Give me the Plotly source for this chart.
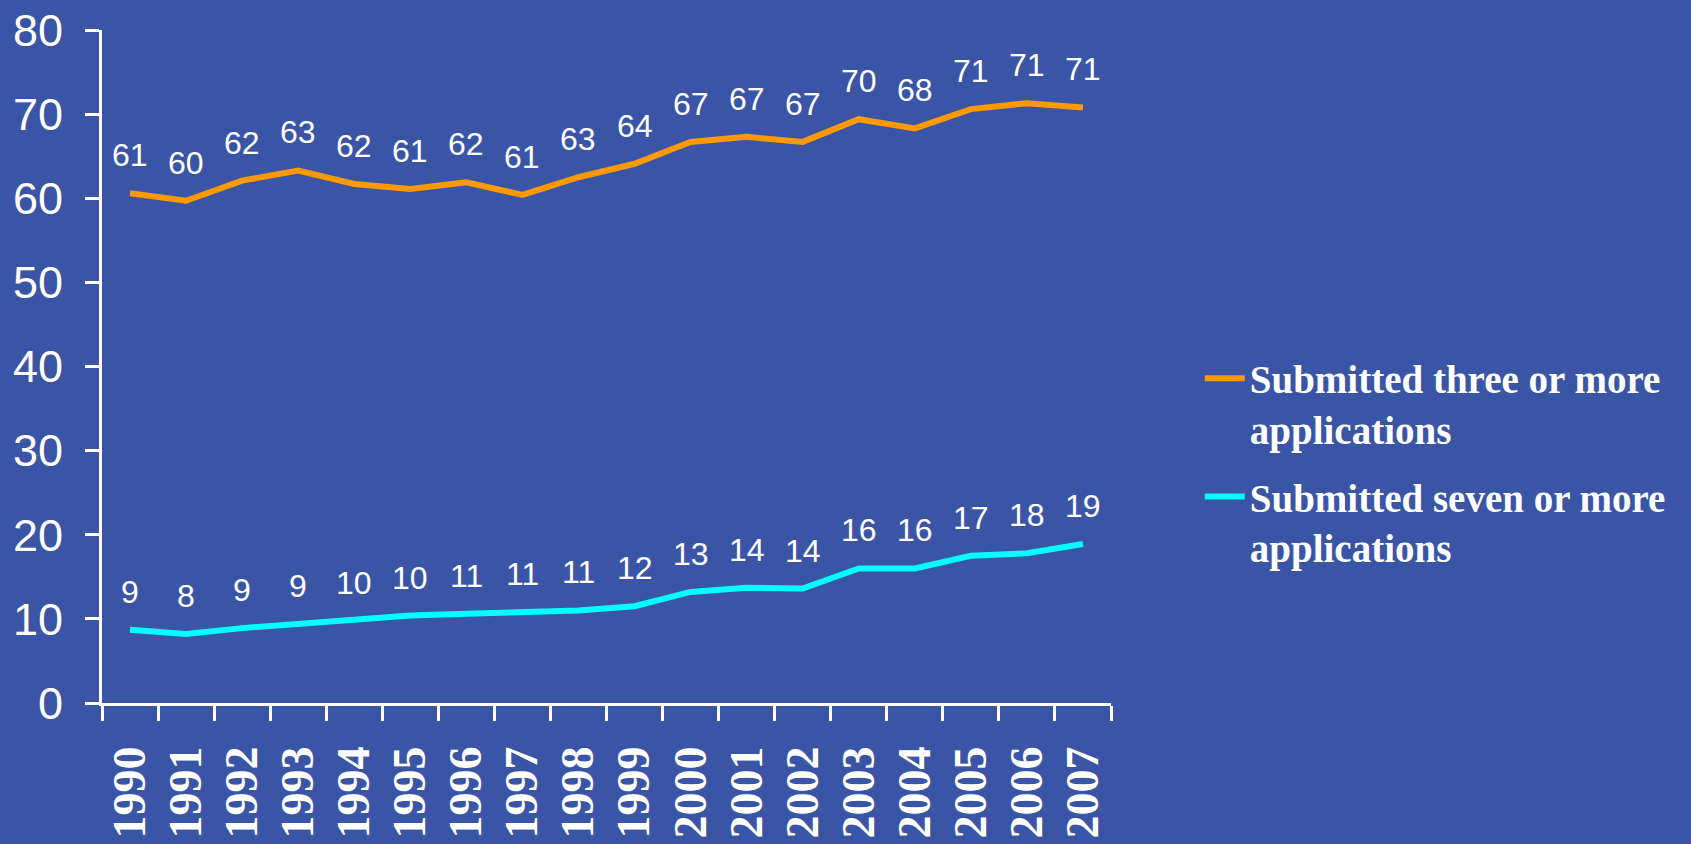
import plotly.graph_objects as go

years = [str(y) for y in range(1990, 2008)]
three_or_more = [60.6, 59.7, 62.1, 63.3, 61.7, 61.1, 61.9, 60.4, 62.5, 64.1,
                 66.7, 67.3, 66.7, 69.4, 68.3, 70.6, 71.3, 70.8]
three_labels = ["61", "60", "62", "63", "62", "61", "62", "61", "63", "64",
                "67", "67", "67", "70", "68", "71", "71", "71"]
seven_or_more = [8.7, 8.2, 8.9, 9.4, 9.8, 10.4, 10.6, 10.8, 11.0, 11.5,
                 13.2, 13.7, 13.6, 16.0, 16.0, 17.5, 17.8, 18.9]
seven_labels = ["9", "8", "9", "9", "10", "10", "11", "11", "11", "12",
                "13", "14", "14", "16", "16", "17", "18", "19"]
y_ticks = [0, 10, 20, 30, 40, 50, 60, 70, 80]

BG = "#3A55A5"
ORANGE = "#FF9900"
CYAN = "#00FFFF"

fig = go.Figure()
fig.add_trace(go.Scatter(
    x=years, y=three_or_more, mode="lines",
    name="Submitted three or more<br>applications",
    line=dict(color=ORANGE, width=6),
    legendgroup="a",
))
fig.add_trace(go.Scatter(
    x=years, y=seven_or_more, mode="lines",
    name="Submitted seven or more<br>applications",
    line=dict(color=CYAN, width=6),
    legendgroup="b",
))

annotations = []
for series, labels in ((three_or_more, three_labels), (seven_or_more, seven_labels)):
    for i, (v, t) in enumerate(zip(series, labels)):
        annotations.append(dict(
            x=i, y=v, xref="x", yref="y", text=t, showarrow=False, yshift=38,
            xanchor="center", yanchor="middle",
            font=dict(family="Liberation Sans", size=32, color="white"),
        ))

fig.update_layout(
    width=1691, height=844,
    paper_bgcolor=BG, plot_bgcolor=BG,
    margin=dict(l=102, r=580, t=30, b=141, autoexpand=False),
    showlegend=True,
    legend=dict(
        x=1.088, y=0.53, xanchor="left", yanchor="top",
        valign="top", bgcolor="rgba(0,0,0,0)",
        font=dict(family="Liberation Serif", size=39, color="white", weight="bold"),
        itemwidth=40, tracegroupgap=14,
    ),
    annotations=annotations,
    xaxis=dict(
        type="category", range=[-0.5, 17.5], automargin=False,
        showline=True, linecolor="white", linewidth=3,
        ticks="outside", tickson="boundaries", ticklen=15, tickwidth=3, tickcolor="white",
        tickangle=-90, ticklabelstandoff=22,
        tickfont=dict(family="Liberation Serif", size=46, color="white", weight="bold"),
        showgrid=False, zeroline=False,
    ),
    yaxis=dict(
        range=[0, 80], tickvals=y_ticks, automargin=False,
        showline=True, linecolor="white", linewidth=3,
        ticks="outside", ticklen=14, tickwidth=3, tickcolor="white",
        ticklabelstandoff=13,
        tickfont=dict(family="Liberation Sans", size=45, color="white"),
        showgrid=False, zeroline=False,
    ),
)

fig.write_html(
    "out.html",
    config={"displayModeBar": False},
    post_script="document.body.style.margin='0';document.body.style.background='%s';" % BG,
)
